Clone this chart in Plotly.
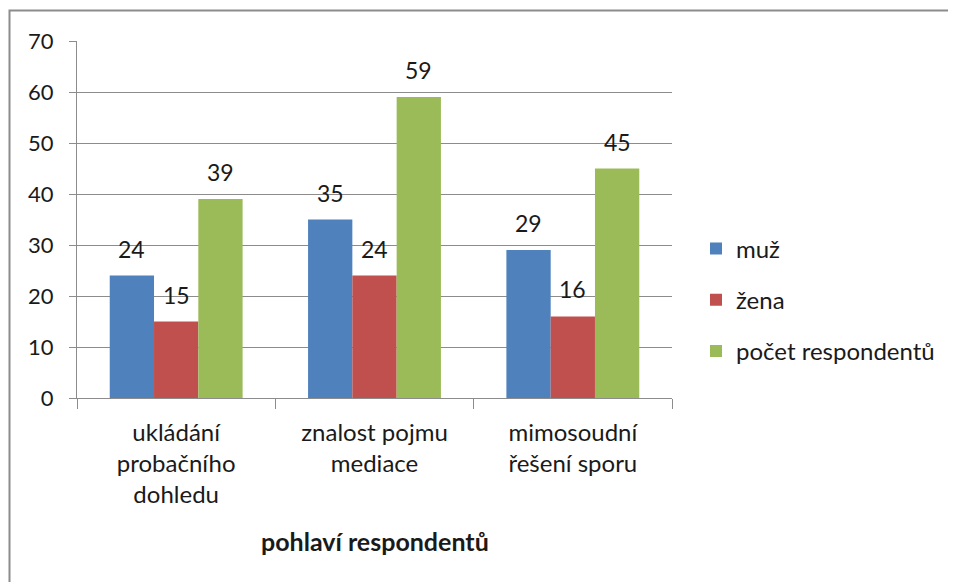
import plotly.graph_objects as go

categories = ["ukládání<br>probačního<br>dohledu", "znalost pojmu<br>mediace", "mimosoudní<br>řešení sporu"]
series_names = ["muž", "žena", "počet respondentů"]
muz = [24, 35, 29]
zena = [15, 24, 16]
pocet = [39, 59, 45]
y_ticks = [0, 10, 20, 30, 40, 50, 60, 70]
colors = ["#4F81BD", "#C0504D", "#9BBB59"]

OFF = 8  # page body margin
W, H = 956 - OFF, 582 - OFF
X0, X1, Y0, Y1 = 77 - OFF, 672 - OFF, 398 - OFF, 41 - OFF  # plot area in figure px
L, R, T, B = X0, W - X1, Y1, H - Y0
pw, ph = X1 - X0, Y0 - Y1

FONT = "Lato, Carlito, Calibri, 'Open Sans', sans-serif"
TXT = "#1a1a1a"
GRID = "#8c8c8c"

fig = go.Figure()
all_series = [muz, zena, pocet]
for name, vals, col, g in zip(series_names, all_series, colors, range(3)):
    fig.add_trace(go.Bar(x=categories, y=vals, name=name, marker=dict(color=col, line=dict(width=0)),
                         legendgroup=f"g{g}"))

bargap = 0.33
cat_px = pw / len(categories)
bar_px = cat_px * (1 - bargap) / 3
annotations = []
for i, vals in enumerate(all_series):
    for c, v in zip(categories, vals):
        annotations.append(dict(x=c, y=v, xref="x", yref="y", text=str(v), showarrow=False,
                                xshift=(i - 1) * bar_px, yshift=27, yanchor="middle",
                                font=dict(family=FONT, size=23, color=TXT)))

annotations.append(dict(text="<b>pohlaví respondentů</b>", x=0.5, xref="paper",
                        y=(Y0 - (541 - OFF)) / ph, yref="paper", showarrow=False, yanchor="middle",
                        font=dict(family=FONT, size=25, color=TXT)))

fig.update_layout(
    width=W, height=H,
    margin=dict(l=L, r=R, t=T, b=B, autoexpand=False),
    paper_bgcolor="white", plot_bgcolor="white",
    barmode="group", bargap=bargap, bargroupgap=0,
    font=dict(family=FONT, size=24, color=TXT),
    showlegend=True,
    legend=dict(x=(696 - OFF - X0) / pw, xanchor="left", y=(Y0 - (300 - OFF)) / ph, yanchor="middle",
                traceorder="grouped", tracegroupgap=17, font=dict(family=FONT, size=24, color=TXT),
                bgcolor="rgba(0,0,0,0)"),
    annotations=annotations,
    shapes=[dict(type="rect", xref="paper", yref="paper",
                 x0=(9.5 - OFF - X0) / pw, x1=(W + 20 - X0) / pw,
                 y0=(Y0 - (H + 20)) / ph, y1=(Y0 - (10.5 - OFF)) / ph,
                 line=dict(color="#8c8c8c", width=2), fillcolor="rgba(0,0,0,0)", layer="below")],
)
fig.update_yaxes(range=[0, 70], tickvals=y_ticks, showgrid=True, gridcolor=GRID, gridwidth=1,
                 showline=True, linecolor=GRID, linewidth=1, ticks="outside", ticklen=7,
                 tickcolor=GRID, zeroline=False, ticklabelstandoff=11,
                 tickfont=dict(family=FONT, size=22, color=TXT), fixedrange=True)
fig.update_xaxes(showline=True, linecolor=GRID, linewidth=1, ticks="outside", ticklen=10,
                 tickcolor=GRID, tickson="boundaries", showgrid=False, ticklabelstandoff=13,
                 tickfont=dict(family=FONT, size=24, color=TXT), fixedrange=True)

fig.write_html("out.html")
